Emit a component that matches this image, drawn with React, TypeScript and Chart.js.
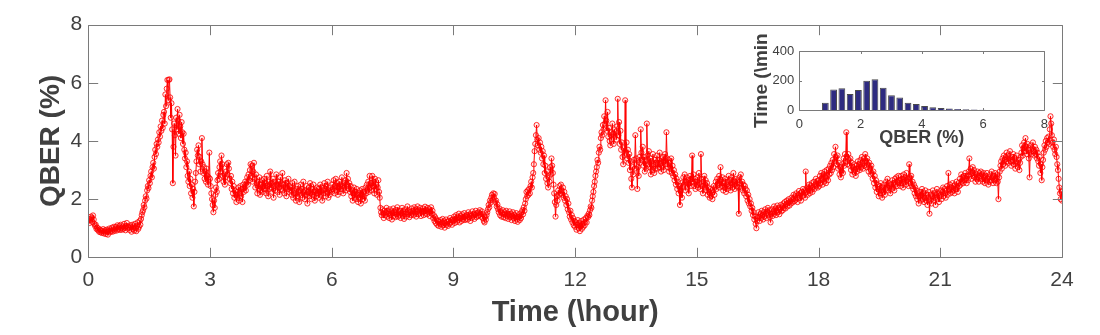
import React, { useEffect, useRef } from "react";
import { Chart, registerables } from "chart.js";

Chart.register(...registerables);

// One QBER sample per minute
const TIME_STEP_HOURS = 1 / 60;

// QBER (%) values (each line = 20 minutes)
const qberH00to06 = [
  1.25, 1.32, 1.18, 1.28, 1.4, 1.35, 1.22, 1.44, 1.3, 1.15, 1.08, 1.12, 0.98, 1.02, 0.94, 0.99, 0.88, 0.95, 0.86, 0.92,
  0.84, 0.9, 0.97, 0.82, 0.88, 0.93, 0.8, 0.95, 0.87, 0.78, 0.92, 0.99, 0.86, 0.94, 0.9, 1.02, 0.88, 0.96, 1.05, 0.91,
  0.98, 1.04, 0.92, 1.1, 0.96, 1.02, 1.08, 0.94, 1.12, 1.0, 0.95, 1.06, 0.98, 1.15, 1.02, 0.93, 1.08, 1.18, 0.99, 1.05,
  1.02, 0.94, 1.1, 1.05, 0.88, 1.12, 0.97, 1.06, 0.92, 1.15, 1.0, 0.9, 1.08, 1.2, 0.98, 1.05, 1.25, 1.12, 1.32, 1.45,
  1.55, 1.62, 1.8, 1.72, 1.95, 2.1, 2.02, 2.3, 2.45, 2.38, 2.65, 2.55, 2.8, 2.95, 2.75, 3.1, 3.25, 3.05, 3.45, 3.7,
  3.55, 3.9, 3.8, 4.05, 3.95, 4.3, 4.15, 4.5, 4.35, 4.7, 4.45, 4.9, 5.0, 4.6, 5.6, 5.2, 5.8, 6.1, 5.4, 6.1,
  6.12, 5.5, 4.8, 5.3, 4.4, 2.55, 3.8, 4.6, 4.2, 3.5, 4.8, 4.4, 5.1, 4.7, 4.25, 4.9, 4.5, 4.1, 4.65, 4.3,
  3.9, 4.25, 3.7, 3.4, 3.6, 3.1, 3.3, 2.8, 2.6, 2.95, 2.45, 2.7, 2.2, 2.5, 2.05, 2.35, 1.75, 2.25, 2.6, 2.9,
  3.3, 3.7, 3.5, 3.85, 3.2, 3.45, 2.95, 3.3, 4.1, 3.2, 2.9, 3.1, 2.7, 2.95, 2.6, 3.05, 2.8, 2.5, 2.75, 3.6,
  2.7, 2.45, 2.2, 2.0, 1.8, 1.55, 1.95, 1.7, 2.15, 2.4, 2.25, 2.65, 2.9, 2.7, 3.1, 3.3, 2.95, 3.5, 3.2, 2.8,
  2.6, 2.85, 2.5, 2.75, 2.95, 3.2, 2.85, 3.25, 3.05, 2.7, 2.55, 2.8, 2.35, 2.6, 2.2, 2.45, 2.05, 2.3, 2.15, 1.9,
  2.25, 2.05, 2.4, 1.95, 2.2, 2.45, 2.1, 2.35, 1.9, 2.5, 2.25, 2.4, 2.6, 2.3, 2.55, 2.75, 2.5, 2.85, 2.65, 3.0,
  3.2, 2.8, 3.15, 2.6, 2.95, 3.25, 2.7, 2.4, 2.85, 2.55, 2.2, 2.6, 2.35, 2.75, 2.15, 2.5, 2.3, 2.65, 2.25, 2.45,
  2.7, 2.35, 2.55, 2.2, 2.8, 2.45, 2.1, 2.6, 2.35, 2.95, 2.4, 2.55, 2.25, 2.7, 2.05, 2.45, 2.6, 2.3, 2.85, 2.5,
  2.25, 2.6, 2.4, 2.15, 2.75, 2.35, 2.55, 2.9, 2.3, 2.5, 2.2, 2.65, 2.4, 2.1, 2.55, 2.35, 2.7, 2.25, 2.45, 2.3,
  2.4, 2.15, 2.55, 2.05, 2.3, 2.6, 2.2, 1.95, 2.35, 2.1, 2.45, 2.25, 1.9, 2.3, 2.5, 2.15, 2.35, 2.05, 2.6, 2.25,
  2.0, 2.3, 2.15, 2.45, 1.85, 2.25, 2.4, 2.1, 2.55, 2.2, 2.0, 2.35, 2.15, 2.5, 2.25, 1.95, 2.3, 2.1, 2.4, 2.2,
  2.35, 2.05, 2.25, 2.5, 2.15, 2.4, 1.95, 2.3, 2.2, 2.55, 2.35, 2.1, 2.45, 2.25, 2.6, 2.05, 2.3, 2.15, 2.4, 2.3,
];
const qberH06to12 = [
  2.25, 2.5, 2.35, 2.65, 2.2, 2.45, 2.7, 2.3, 2.55, 2.15, 2.4, 2.6, 2.25, 2.5, 2.35, 2.75, 2.45, 2.2, 2.55, 2.4,
  2.65, 2.3, 2.9, 2.5, 2.7, 2.35, 2.55, 2.25, 2.45, 2.1, 2.3, 1.95, 2.2, 2.4, 2.05, 2.25, 2.0, 2.35, 2.15, 1.9,
  2.2, 2.05, 2.3, 1.85, 2.15, 2.35, 2.0, 2.25, 2.1, 1.95, 2.4, 2.2, 2.5, 2.3, 2.6, 2.25, 2.8, 2.4, 2.55, 2.3,
  2.8, 2.45, 2.6, 2.2, 2.7, 2.35, 2.5, 2.15, 2.4, 2.65, 2.25, 2.05, 1.7, 1.55, 1.45, 1.65, 1.5, 1.35, 1.6, 1.45,
  1.55, 1.7, 1.4, 1.6, 1.5, 1.35, 1.65, 1.45, 1.58, 1.3, 1.52, 1.68, 1.42, 1.55, 1.38, 1.62, 1.48, 1.72, 1.4, 1.55,
  1.45, 1.6, 1.35, 1.52, 1.7, 1.42, 1.58, 1.32, 1.5, 1.65, 1.4, 1.55, 1.75, 1.48, 1.62, 1.38, 1.56, 1.45, 1.68, 1.5,
  1.6, 1.45, 1.72, 1.5, 1.65, 1.4, 1.58, 1.75, 1.48, 1.62, 1.52, 1.7, 1.42, 1.6, 1.55, 1.68, 1.45, 1.58, 1.74, 1.5,
  1.62, 1.48, 1.7, 1.55, 1.65, 1.42, 1.58, 1.72, 1.5, 1.6, 1.35, 1.45, 1.25, 1.38, 1.18, 1.3, 1.12, 1.25, 1.08, 1.22,
  1.15, 1.28, 1.05, 1.2, 1.32, 1.1, 1.24, 1.02, 1.18, 1.3, 1.12, 1.22, 1.08, 1.26, 1.15, 1.35, 1.2, 1.28, 1.12, 1.3,
  1.25, 1.4, 1.18, 1.32, 1.45, 1.22, 1.38, 1.28, 1.5, 1.2, 1.35, 1.42, 1.25, 1.48, 1.3, 1.38, 1.52, 1.28, 1.4, 1.33,
  1.45, 1.3, 1.55, 1.38, 1.48, 1.25, 1.42, 1.35, 1.58, 1.4, 1.5, 1.32, 1.46, 1.6, 1.38, 1.52, 1.42, 1.55, 1.45, 1.62,
  1.5, 1.4, 1.58, 1.35, 1.48, 1.25, 1.2, 1.38, 1.3, 1.45, 1.55, 1.65, 1.8, 1.72, 1.95, 1.88, 2.05, 2.15, 1.98, 2.2,
  2.05, 2.18, 1.9, 1.95, 1.75, 1.82, 1.65, 1.55, 1.68, 1.45, 1.58, 1.4, 1.52, 1.62, 1.38, 1.48, 1.55, 1.35, 1.6, 1.42,
  1.5, 1.32, 1.45, 1.58, 1.38, 1.5, 1.28, 1.42, 1.55, 1.35, 1.46, 1.25, 1.4, 1.52, 1.3, 1.22, 1.38, 1.48, 1.28, 1.42,
  1.35, 1.55, 1.62, 1.48, 1.72, 1.6, 1.85, 2.0, 2.25, 2.1, 2.3, 2.15, 2.35, 2.2, 2.45, 2.6, 2.4, 2.75, 2.9, 3.2,
  3.65, 3.9, 4.2, 4.55, 4.05, 3.85, 4.1, 3.7, 3.95, 3.6, 3.8, 3.4, 3.65, 3.2, 3.5, 2.9, 3.15, 2.7, 2.95, 2.55,
  2.4, 2.75, 2.6, 3.1, 2.85, 3.4, 3.15, 2.9, 2.5, 2.2, 1.9, 1.4, 1.8, 2.1, 1.95, 2.3, 2.15, 2.45, 2.2, 2.5,
  2.3, 2.15, 2.4, 2.05, 2.25, 1.95, 2.1, 1.8, 2.0, 1.65, 1.85, 1.55, 1.4, 1.6, 1.3, 1.45, 1.2, 1.35, 1.1, 1.25,
];
const qberH12to18 = [
  1.05, 1.2, 0.95, 1.12, 1.28, 1.0, 1.18, 0.9, 1.08, 1.25, 0.98, 1.15, 1.05, 1.3, 1.1, 1.22, 1.35, 1.2, 1.42, 1.38,
  1.5, 1.45, 1.62, 1.75, 1.7, 1.95, 2.1, 2.25, 2.45, 2.6, 2.8, 2.95, 3.1, 3.35, 3.25, 3.6, 3.8, 3.7, 4.1, 4.3,
  4.2, 4.55, 4.4, 4.85, 4.6, 5.4, 4.7, 4.35, 5.0, 4.15, 4.45, 4.0, 3.85, 4.3, 4.05, 4.6, 4.25, 3.9, 4.4, 4.15,
  4.3, 4.05, 4.5, 5.45, 4.2, 4.65, 3.9, 4.35, 3.7, 3.95, 3.45, 3.2, 3.75, 3.5, 5.4, 3.6, 3.95, 3.4, 3.7, 3.25,
  3.55, 3.0, 3.3, 2.7, 2.4, 3.1, 2.85, 3.35, 3.05, 4.2, 3.4, 3.2, 2.35, 3.1, 2.8, 3.45, 3.25, 4.4, 3.6, 3.35,
  3.8, 3.15, 3.45, 2.95, 3.3, 3.05, 4.6, 3.5, 3.2, 3.65, 3.1, 3.4, 2.85, 3.3, 3.0, 3.55, 3.2, 2.9, 3.35, 3.05,
  3.25, 3.5, 3.05, 3.35, 3.1, 3.6, 3.2, 2.95, 3.4, 3.15, 3.45, 3.0, 3.3, 3.55, 3.2, 4.3, 3.4, 3.1, 3.35, 2.95,
  3.25, 3.05, 3.4, 2.9, 3.15, 2.8, 3.0, 2.65, 2.85, 2.5, 2.7, 2.35, 2.6, 2.2, 2.45, 1.8, 2.3, 2.55, 2.05, 2.4,
  2.75, 2.5, 2.85, 2.3, 2.6, 2.75, 2.4, 2.65, 2.2, 2.55, 2.8, 2.45, 2.7, 3.5, 2.6, 2.85, 2.45, 2.7, 2.35, 2.6,
  2.5, 2.75, 2.4, 2.9, 2.55, 2.35, 3.55, 2.7, 2.45, 2.2, 2.6, 2.8, 2.4, 2.65, 2.3, 2.55, 2.15, 2.4, 2.25, 2.05,
  2.35, 2.1, 2.3, 2.0, 2.25, 2.45, 2.15, 2.4, 2.6, 2.35, 2.7, 2.5, 2.55, 2.8, 2.4, 3.1, 2.65, 2.45, 2.75, 2.3,
  2.55, 2.4, 2.7, 2.25, 2.5, 2.35, 2.6, 2.8, 2.45, 2.65, 2.3, 2.55, 2.75, 2.4, 2.9, 2.6, 2.35, 2.5, 2.7, 2.45,
  2.65, 2.4, 1.5, 2.75, 2.55, 2.85, 2.4, 2.6, 2.3, 2.5, 2.2, 2.45, 2.35, 2.1, 2.3, 1.95, 2.15, 1.85, 2.0, 1.75,
  1.85, 1.6, 1.7, 1.45, 1.55, 1.3, 1.4, 1.15, 1.0, 1.25, 1.35, 1.55, 1.4, 1.25, 1.5, 1.35, 1.6, 1.45, 1.3, 1.55,
  1.4, 1.65, 1.5, 1.35, 1.58, 1.7, 1.45, 1.62, 1.38, 1.2, 1.48, 1.65, 1.42, 1.55, 1.75, 1.5, 1.68, 1.45, 1.6, 1.78,
  1.55, 1.7, 1.48, 1.65, 1.8, 1.58, 1.75, 1.62, 1.85, 1.7, 1.9, 1.68, 1.82, 1.95, 1.75, 1.88, 2.0, 1.78, 1.92, 1.85,
  2.05, 1.88, 2.0, 2.15, 1.92, 2.1, 1.98, 2.2, 2.05, 1.9, 2.15, 2.28, 2.05, 2.2, 1.95, 2.25, 2.1, 2.35, 2.15, 2.3,
  2.05, 2.95, 2.25, 2.4, 2.15, 2.35, 2.5, 2.2, 2.45, 2.3, 2.55, 2.25, 2.4, 2.6, 2.35, 2.5, 2.7, 2.45, 2.62, 2.4,
];
const qberH18to24 = [
  2.65, 2.45, 2.8, 2.55, 2.9, 2.7, 2.5, 2.85, 2.6, 2.95, 2.75, 2.55, 3.0, 2.8, 2.65, 3.05, 2.85, 3.15, 2.9, 3.25,
  3.0, 3.35, 3.1, 3.55, 3.3, 3.8, 3.45, 3.2, 3.5, 3.05, 3.25, 2.85, 3.1, 2.75, 2.95, 3.2, 2.9, 3.4, 3.15, 3.55,
  3.3, 4.3, 3.45, 3.2, 3.55, 3.35, 3.15, 3.4, 3.0, 3.25, 2.85, 3.1, 2.95, 3.2, 3.0, 2.8, 3.15, 2.95, 3.3, 3.05,
  3.2, 3.0, 3.35, 3.1, 3.45, 3.25, 3.05, 3.4, 3.15, 3.55, 3.3, 3.1, 3.4, 3.2, 2.95, 3.25, 3.05, 2.85, 3.15, 2.9,
  2.7, 2.95, 2.55, 2.8, 2.4, 2.65, 2.25, 2.5, 2.35, 2.1, 2.45, 2.2, 2.55, 2.3, 2.05, 2.4, 2.25, 2.5, 2.15, 2.35,
  2.6, 2.4, 2.7, 2.3, 2.55, 2.45, 2.2, 2.5, 2.35, 2.65, 2.4, 2.55, 2.3, 2.7, 2.5, 2.75, 2.45, 2.6, 2.8, 2.55,
  2.65, 2.45, 2.8, 2.55, 2.7, 2.4, 2.85, 2.6, 2.75, 2.5, 2.9, 2.65, 2.7, 2.45, 3.2, 2.75, 2.55, 2.8, 2.45, 2.6,
  2.35, 2.5, 2.2, 2.4, 2.1, 2.3, 2.0, 2.2, 1.85, 2.1, 2.25, 1.95, 2.15, 2.35, 2.0, 2.2, 1.9, 2.05, 2.3, 1.95,
  2.15, 1.8, 2.05, 2.25, 1.5, 1.95, 2.15, 1.85, 2.1, 2.3, 1.95, 2.2, 2.05, 1.8, 2.15, 2.35, 2.0, 2.2, 1.9, 2.1,
  2.15, 2.3, 2.0, 2.25, 2.4, 2.1, 2.35, 2.2, 2.05, 2.3, 2.45, 2.15, 2.9, 2.35, 2.5, 2.2, 2.4, 2.25, 2.55, 2.3,
  2.45, 2.2, 2.5, 2.35, 2.6, 2.4, 2.25, 2.55, 2.45, 2.7, 2.5, 2.85, 2.6, 2.75, 2.55, 2.8, 2.65, 2.9, 2.7, 2.55,
  2.8, 2.65, 2.95, 3.4, 2.85, 3.05, 2.7, 2.9, 3.1, 2.8, 3.0, 2.75, 2.6, 2.85, 2.7, 2.95, 2.75, 2.6, 2.9, 2.8,
  2.95, 2.7, 2.85, 2.6, 2.9, 2.75, 2.55, 2.8, 2.65, 2.9, 2.7, 2.5, 2.75, 2.6, 2.85, 2.65, 2.95, 2.75, 2.55, 2.8,
  2.65, 2.9, 2.7, 2.55, 2.85, 2.6, 2.0, 2.75, 2.95, 3.15, 3.3, 3.05, 3.4, 3.2, 3.5, 3.35, 3.15, 3.45, 3.6, 3.3,
  3.5, 3.25, 3.4, 3.65, 3.3, 3.15, 3.45, 3.35, 3.55, 3.2, 3.4, 3.05, 3.3, 3.5, 3.25, 3.1, 3.35, 3.0, 3.25, 3.45,
  3.6, 3.85, 3.5, 3.75, 3.95, 3.65, 4.1, 3.8, 3.55, 3.9, 3.7, 3.4, 2.75, 3.6, 3.85, 3.55, 3.75, 3.95, 3.65, 3.5,
  3.8, 3.55, 3.7, 3.4, 3.6, 3.3, 3.15, 3.45, 2.9, 3.2, 2.65, 3.1, 3.35, 3.6, 3.85, 3.7, 4.0, 3.8, 4.1, 3.95,
  4.15, 3.9, 4.4, 4.85, 4.6, 4.2, 3.95, 3.8, 4.05, 3.7, 3.55, 3.8, 3.45, 3.2, 3.0, 2.7, 2.4, 2.2, 2.0, 2.25,
  1.95,
];

// Inset histogram: bin centres (QBER %) and counts (minutes)
const histBinCenters = [0.85, 1.12, 1.39, 1.66, 1.93, 2.2, 2.47, 2.74, 3.01, 3.28, 3.55, 3.82, 4.09, 4.36, 4.63, 4.9, 5.17, 5.44, 5.71, 5.98];
const histCounts = [50, 139, 148, 109, 136, 200, 209, 152, 100, 86, 50, 41, 27, 18, 14, 11, 7, 5, 3, 2];

// Axis settings
const mainX = { min: 0, max: 24, step: 3 };
const mainY = { min: 0, max: 8, step: 2 };
const insetX = { min: 0, max: 8, step: 2 };
const insetY = { min: 0, max: 400, step: 200 };

const FONT = '"Liberation Sans", Arial, Helvetica, sans-serif';
const TEXT = "#404040";
const FRAME = "#7a7a7a";

const frameTicksPlugin = {
  id: "frameTicks",
  beforeDatasetsDraw(chart: any, _args: any, opts: any) {
    if (!opts.fill) return;
    const { ctx, chartArea: a } = chart;
    ctx.save();
    ctx.fillStyle = opts.fill;
    ctx.fillRect(a.left, a.top, a.right - a.left, a.bottom - a.top);
    ctx.restore();
  },
  afterDatasetsDraw(chart: any, _args: any, opts: any) {
    const { ctx, chartArea: a, scales } = chart;
    const L = opts.len;
    const r = (v: number) => Math.round(v) + 0.5;
    ctx.save();
    ctx.strokeStyle = opts.color;
    ctx.lineWidth = 1;
    ctx.beginPath();
    const l = r(a.left), t = r(a.top), rt = r(a.right), b = r(a.bottom);
    ctx.rect(l, t, rt - l, b - t);
    for (const tk of scales.x.ticks) {
      const px = r(scales.x.getPixelForValue(tk.value));
      ctx.moveTo(px, b); ctx.lineTo(px, b - L);
      ctx.moveTo(px, t); ctx.lineTo(px, t + L);
    }
    for (const tk of scales.y.ticks) {
      const py = r(scales.y.getPixelForValue(tk.value));
      ctx.moveTo(l, py); ctx.lineTo(l + L, py);
      ctx.moveTo(rt, py); ctx.lineTo(rt - L, py);
    }
    ctx.stroke();
    ctx.restore();
  },
};

export default function App() {
  const mainRef = useRef<HTMLCanvasElement | null>(null);
  const insetRef = useRef<HTMLCanvasElement | null>(null);

  useEffect(() => {
    const qber = [...qberH00to06, ...qberH06to12, ...qberH12to18, ...qberH18to24];
    const points = qber.map((v, i) => ({ x: i * TIME_STEP_HOURS, y: v }));

    const main = new Chart(mainRef.current as HTMLCanvasElement, {
      type: "line",
      data: {
        datasets: [
          {
            data: points,
            borderColor: "#ff0000",
            borderWidth: 1,
            pointRadius: 2.6,
            pointBorderWidth: 0.8,
            pointBorderColor: "#ff0000",
            pointBackgroundColor: "rgba(255,0,0,0.08)",
            tension: 0,
          },
        ],
      },
      options: {
        animation: false,
        responsive: false,
        maintainAspectRatio: false,
        events: [],
        layout: { padding: { top: 24.7, right: 38, left: 0, bottom: 0 } },
        plugins: {
          legend: { display: false },
          tooltip: { enabled: false },
          frameTicks: { len: 9.7, color: FRAME },
        } as any,
        scales: {
          x: {
            type: "linear",
            min: mainX.min,
            max: mainX.max,
            ticks: { stepSize: mainX.step, font: { family: FONT, size: 21 }, color: TEXT, padding: 10, maxRotation: 0, autoSkip: false },
            grid: { display: false, drawTicks: false },
            border: { display: false },
            title: { display: true, text: "Time (\\hour)", font: { family: FONT, size: 29, weight: "bold" }, color: TEXT, padding: { top: 0, bottom: 5 } },
            afterFit: (s: any) => { s.height = 77.7; },
          },
          y: {
            type: "linear",
            min: mainY.min,
            max: mainY.max,
            ticks: { stepSize: mainY.step, font: { family: FONT, size: 21 }, color: TEXT, padding: 6 },
            grid: { display: false, drawTicks: false },
            border: { display: false },
            title: { display: true, text: "QBER (%)", font: { family: FONT, size: 28, weight: "bold" }, color: TEXT, padding: { top: 34, bottom: 0 } },
            afterFit: (s: any) => { s.width = 88.3; },
          },
        },
      },
      plugins: [frameTicksPlugin],
    });

    const inset = new Chart(insetRef.current as HTMLCanvasElement, {
      type: "bar",
      data: {
        datasets: [
          {
            data: histBinCenters.map((c, i) => ({ x: c, y: histCounts[i] })),
            backgroundColor: "#2e2b80",
            borderColor: "#4a4a4a",
            borderWidth: 1,
            barPercentage: 0.82,
            categoryPercentage: 1,
          },
        ],
      },
      options: {
        animation: false,
        responsive: false,
        maintainAspectRatio: false,
        events: [],
        layout: { padding: { top: 23.3, right: 25.7, left: 0, bottom: 0 } },
        plugins: {
          legend: { display: false },
          tooltip: { enabled: false },
          frameTicks: { len: 2.5, color: FRAME, fill: "#ffffff" },
        } as any,
        scales: {
          x: {
            type: "linear",
            offset: false,
            min: insetX.min,
            max: insetX.max,
            ticks: { stepSize: insetX.step, font: { family: FONT, size: 13 }, color: TEXT, padding: 7, maxRotation: 0, autoSkip: false },
            grid: { display: false, drawTicks: false, offset: false },
            border: { display: false },
            title: { display: true, text: "QBER (%)", font: { family: FONT, size: 18, weight: "bold" }, color: TEXT, padding: { top: 0, bottom: 1 } },
            afterFit: (s: any) => { s.height = 40; },
          },
          y: {
            type: "linear",
            min: insetY.min,
            max: insetY.max,
            ticks: { stepSize: insetY.step, font: { family: FONT, size: 13 }, color: TEXT, padding: 5 },
            grid: { display: false, drawTicks: false },
            border: { display: false },
            title: { display: true, text: "Time (\\min", font: { family: FONT, size: 19, weight: "bold" }, color: TEXT, padding: { top: 10.2, bottom: 0 } },
            afterFit: (s: any) => { s.width = 59.3; },
          },
        },
      },
      plugins: [frameTicksPlugin],
    });

    return () => {
      main.destroy();
      inset.destroy();
    };
  }, []);

  return (
    <div style={{ position: "fixed", left: 0, top: 0, width: 1100, height: 335, background: "#ffffff", overflow: "hidden" }}>
      <canvas ref={mainRef} width={1100} height={335} style={{ position: "absolute", left: 0, top: 0, width: 1100, height: 335 }} />
      <canvas ref={insetRef} width={330} height={122} style={{ position: "absolute", left: 740, top: 28, width: 330, height: 122 }} />
    </div>
  );
}
